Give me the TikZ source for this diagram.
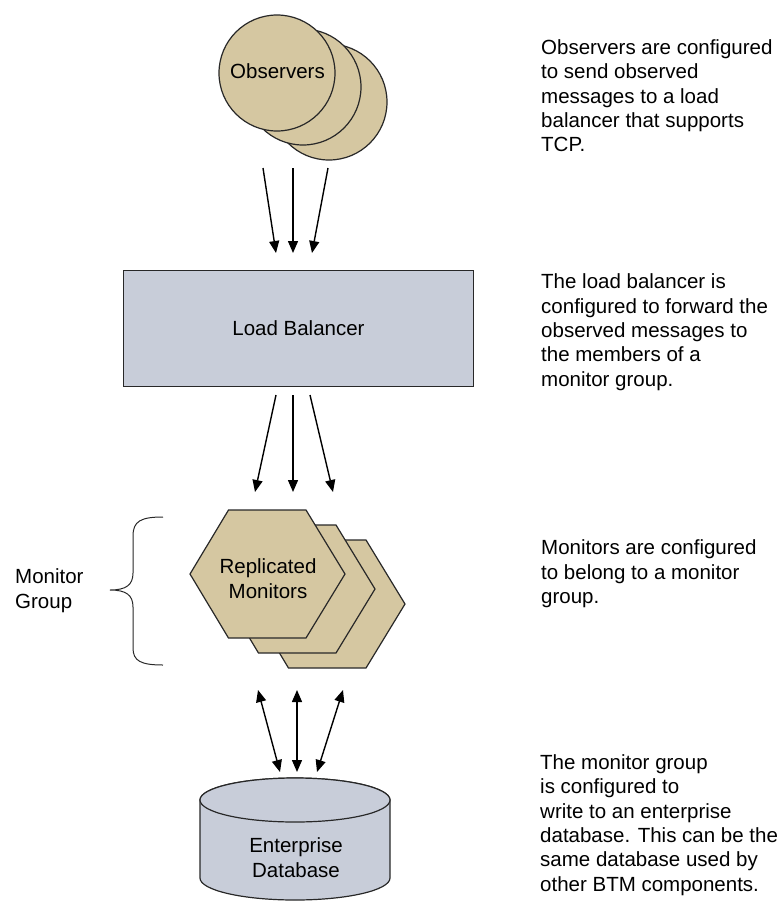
\documentclass[tikz,border=0pt]{standalone}
\usepackage{fontspec}
\setmainfont{Liberation Sans}
\usetikzlibrary{arrows.meta}
\definecolor{tan}{RGB}{213,199,161}
\definecolor{bluegray}{RGB}{200,205,217}
\definecolor{edge}{RGB}{40,40,40}
\tikzset{
  txt/.style={font={\fontsize{20.5}{24.3}\selectfont}, inner sep=0pt},
  note/.style={txt, align=left, anchor=base west},
  shapeline/.style={draw=edge, line width=1.2pt},
  flow/.style={line width=1.4pt, -{Triangle[length=12pt,width=10pt]}},
  dflow/.style={line width=1.4pt, {Triangle[length=12pt,width=10pt]}-{Triangle[length=12pt,width=10pt]}},
}
\begin{document}
\begin{tikzpicture}[x=1pt,y=-1pt]
\useasboundingbox (0,0) rectangle (783,903);
% observers
\node[circle, shapeline, fill=tan, minimum size=116pt, inner sep=0pt] (obs3) at (329,102) {};
\node[circle, shapeline, fill=tan, minimum size=116pt, inner sep=0pt] (obs2) at (303,87) {};
\node[circle, shapeline, fill=tan, minimum size=116pt, inner sep=0pt] (obs1) at (277,73) {};
\node[txt, anchor=base] (obstxt) at (277.5,78) {Observers};
% load balancer
\node[shapeline, fill=bluegray, minimum width=350pt, minimum height=116pt, anchor=north west, inner sep=0pt] (lb) at (123,270) {};
\node[txt, anchor=base] (lbtxt) at (298.5,335) {Load Balancer};
% observers -> lb
\coordinate (oa1) at (263,168); \coordinate (ob1) at (276,253);
\coordinate (oa2) at (293,168); \coordinate (ob2) at (293,253);
\coordinate (oa3) at (328,168); \coordinate (ob3) at (312,253);
\draw[flow] (oa1) -- (ob1);
\draw[flow] (oa2) -- (ob2);
\draw[flow] (oa3) -- (ob3);
% lb -> monitors
\coordinate (la1) at (276,395); \coordinate (lb1) at (255,492);
\coordinate (la2) at (293,395); \coordinate (lb2) at (293,492);
\coordinate (la3) at (310,395); \coordinate (lb3) at (333,492);
\draw[flow] (la1) -- (lb1);
\draw[flow] (la2) -- (lb2);
\draw[flow] (la3) -- (lb3);
% hexagons
\foreach \dx/\dy in {60/30, 30/15, 0/0}{
  \draw[shapeline, fill=tan] ({190+\dx},{574+\dy}) -- ({228.5+\dx},{510+\dy}) -- ({306+\dx},{510+\dy})
     -- ({345+\dx},{574+\dy}) -- ({306+\dx},{638+\dy}) -- ({228.5+\dx},{638+\dy}) -- cycle;
}
\node[txt, align=center, anchor=base] (mon) at (268,598) {Replicated\\Monitors};
% brace
\draw[draw=edge, line width=1pt] (163,517) .. controls (141,517) and (133,521) .. (133,536) -- (133,573)
   .. controls (133,585) and (126,590) .. (110,590)
   .. controls (126,590) and (133,595) .. (133,607) -- (133,648)
   .. controls (133,661) and (141,665) .. (163,665);
\node[txt, align=left, anchor=base west] (grp) at (15,608) {Monitor\\Group};
% monitors <-> db
\coordinate (da1) at (258,690); \coordinate (db1) at (280,772);
\coordinate (da2) at (297,690); \coordinate (db2) at (297,772);
\coordinate (da3) at (343,690); \coordinate (db3) at (317,772);
\draw[dflow] (da1) -- (db1);
\draw[dflow] (da2) -- (db2);
\draw[dflow] (da3) -- (db3);
% database
\draw[shapeline, fill=bluegray] (200,800) -- (200,878) arc[start angle=180, end angle=360, x radius=95, y radius=-22]
   -- (390,800) arc[start angle=0, end angle=180, x radius=95, y radius=-22] -- cycle;
\draw[shapeline, fill=bluegray] (295,800) ellipse[x radius=95, y radius=22];
\node[txt, align=center, anchor=base] (db) at (296,877) {Enterprise\\Database};
% notes
\node[note] (n1) at (541,151.7) {Observers are configured\\to send observed\\messages to a load\\balancer that supports\\TCP.};
\node[note] (n2) at (541,386) {The load balancer is\\configured to forward the\\observed messages to\\the members of a\\monitor group.};
\node[note] (n3) at (541,603.5) {Monitors are configured\\to belong to a monitor\\group.};
\node[note] (n4) at (540,891) {The monitor group\\is configured to\\write to an enterprise\\database. This can be the\\same database used by\\other BTM components.};
\end{tikzpicture}
\end{document}
